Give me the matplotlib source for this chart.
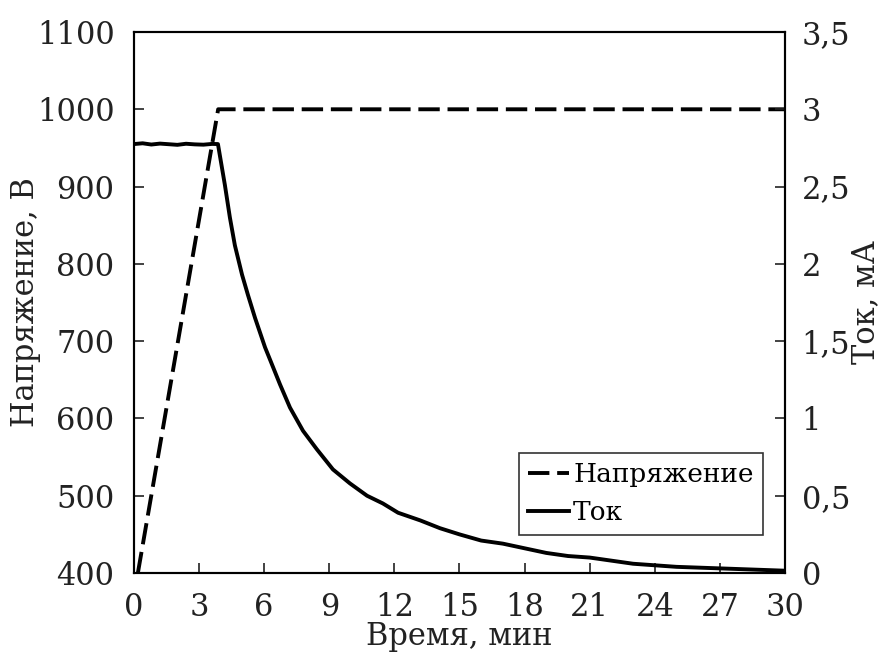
import matplotlib
matplotlib.use("Agg")
import matplotlib.pyplot as plt
from matplotlib.ticker import FuncFormatter

plt.rcParams['font.family'] = ['DejaVu Serif']

# Voltage (V) vs time (min)
volt_t = [0.18, 3.88, 30.0]
volt_v = [400, 1000, 1000]

# Current (mA) vs time (min)
cur_t = [0.0, 0.4, 0.8, 1.2, 1.6, 2.0, 2.4, 2.8, 3.2, 3.6, 3.87, 3.96, 4.19, 4.42, 4.65,
         4.98, 5.25, 5.58, 6.04, 6.3, 6.73, 7.19, 7.79, 8.43, 9.17, 9.95, 10.74, 11.47,
         12.17, 13.2, 14.1, 15.0, 16.0, 17.0, 18.0, 19.0, 20.0, 21.0, 22.0, 23.0, 24.0,
         25.0, 26.0, 27.0, 28.0, 29.0, 30.0]
cur_i = [2.775, 2.78, 2.772, 2.778, 2.774, 2.77, 2.777, 2.773, 2.771, 2.776, 2.775, 2.70, 2.51, 2.30, 2.12,
         1.93, 1.80, 1.65, 1.46, 1.37, 1.22, 1.07, 0.92, 0.80, 0.67, 0.58, 0.50, 0.45,
         0.39, 0.34, 0.29, 0.25, 0.21, 0.19, 0.16, 0.13, 0.11, 0.10, 0.08, 0.06, 0.05,
         0.04, 0.035, 0.03, 0.025, 0.02, 0.015]

x_ticks = list(range(0, 31, 3))
v_ticks = list(range(400, 1101, 100))
i_ticks = [0, 0.5, 1, 1.5, 2, 2.5, 3, 3.5]

fig = plt.figure(figsize=(8.86, 6.61), dpi=100)
ax = fig.add_axes([0.1512, 0.1331, 0.7348, 0.8185])
ax2 = ax.twinx()

l1, = ax.plot(volt_t, volt_v, color='black', lw=2.8, dashes=(5.5, 2), label='Напряжение')
l2, = ax2.plot(cur_t, cur_i, color='black', lw=2.8, label='Ток')

ax.set_xlim(0, 30)
ax.set_ylim(400, 1100)
ax2.set_ylim(0, 3.5)
ax.set_xticks(x_ticks)
ax.set_yticks(v_ticks)
ax2.set_yticks(i_ticks)
ax2.yaxis.set_major_formatter(FuncFormatter(lambda v, p: ('%g' % v).replace('.', ',')))

fs = 22
for a in (ax, ax2):
    a.tick_params(direction='in', length=7, width=1.2, labelsize=fs, colors='#222222')
    for s in a.spines.values():
        s.set_linewidth(1.5)
ax.tick_params(axis='x', pad=14)
ax.tick_params(axis='y', pad=14)
ax2.tick_params(axis='y', pad=12)

ax.set_xlabel('Время, мин', fontsize=fs, color='#222222', labelpad=-2)
ax.set_ylabel('Напряжение, В', fontsize=fs, color='#222222')
ax.yaxis.set_label_coords(-0.143, 0.5)
ax2.set_ylabel('Ток, мА', fontsize=fs, color='#222222', labelpad=0)

leg = ax2.legend(handles=[l1, l2], loc='upper right', bbox_to_anchor=(0.966, 0.222),
                 fontsize=19, frameon=True, fancybox=False, edgecolor='black',
                 handlelength=1.55, handletextpad=0.15, borderpad=0.35, labelspacing=0.5,
                 borderaxespad=0)
leg.get_frame().set_linewidth(1.2)

fig.savefig('out.png', dpi=100)
